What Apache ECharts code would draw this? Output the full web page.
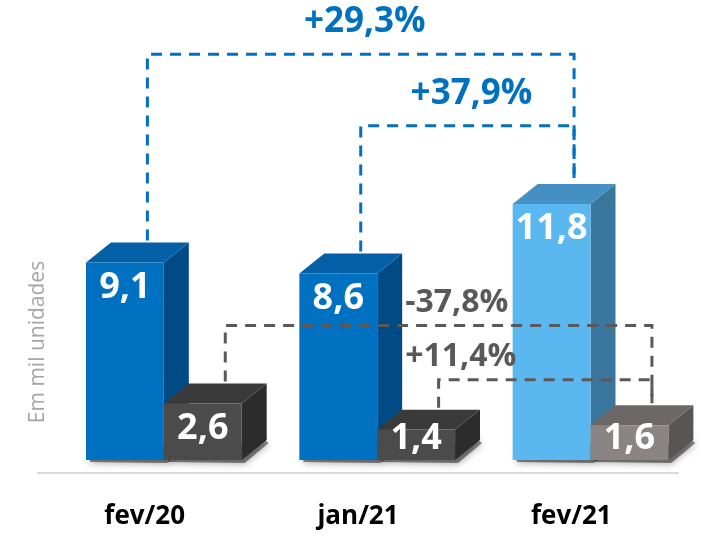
<!DOCTYPE html>
<html>
<head>
<meta charset="utf-8">
<script src="https://cdn.jsdelivr.net/npm/echarts@6/dist/echarts.min.js"></script>
<style>
	html, body { margin: 0; padding: 0; background: #fff; }
	#chart { width: 706px; height: 536px; }
</style>
</head>
<body>
<div id="chart"></div>
<script>
// data (em mil unidades)
const categories = ['fev/20', 'jan/21', 'fev/21']
const blueValues = [9.1, 8.6, 11.8]
const grayValues = [2.6, 1.4, 1.6]

// comparison brackets: from category, to category, bracket level (value units), text
const blueLinkFrom = [0, 1]
const blueLinkTo = [2, 2]
const blueLinkLevel = [18.7, 15.4]
const blueLinkText = ['+29,3%', '+37,9%']

const grayLinkFrom = [0, 1]
const grayLinkTo = [2, 2]
const grayLinkLevel = [6.2, 3.7]
const grayLinkText = ['-37,8%', '+11,4%']
const grayLinkLabelAt = [1, 1]

const FONT = '"Open Sans", sans-serif'

// geometry, as fractions of the category band
const BLUE_OFF = -0.275
const GRAY_OFF = 0.09
const BAR_W = 0.365
const DEPTH = 0.117

const darkBlue = { front: '#0070c0', top: '#0560a8', side: '#004b85' }
const lightBlue = { front: '#5bb7f0', top: '#4590c2', side: '#3a769e' }
const darkGray = { front: '#4b4b4b', top: '#3a3a3a', side: '#2c2c2c' }
const lightGray = { front: '#8a8484', top: '#6d6767', side: '#5a5555' }
const blueFaces = [darkBlue, darkBlue, lightBlue]
const grayFaces = [darkGray, darkGray, lightGray]

const fmt = v => v.toFixed(1).replace('.', ',')

function barRenderer(offset, faces) {
	return function (params, api) {
		const idx = api.value(0)
		const top = api.coord([idx, api.value(1)])
		const base = api.coord([idx, 0])
		const band = api.size([1, 0])[0]
		const x0 = top[0] + offset * band
		const w = BAR_W * band
		const dx = DEPTH * band
		const dy = dx * 0.8
		const c = faces[idx]
		const ty = top[1]
		const by = base[1]
		return {
			type: 'group',
			children: [
				{
					// soft shadow under the box
					type: 'polygon',
					shape: { points: [[x0 + 4, by - 3], [x0 + w + dx - 2, by - dy], [x0 + w + dx + 2, by - dy + 3], [x0 + w + 3, by + 3], [x0 + 4, by + 2]] },
					style: { fill: 'rgba(0,0,0,0.45)', shadowBlur: 7, shadowColor: 'rgba(0,0,0,0.7)', shadowOffsetY: 1 }
				},
				{
					type: 'polygon',
					shape: { points: [[x0 + w, ty], [x0 + w + dx, ty - dy], [x0 + w + dx, by - dy], [x0 + w, by]] },
					style: { fill: c.side }
				},
				{
					type: 'polygon',
					shape: { points: [[x0, ty], [x0 + dx, ty - dy], [x0 + w + dx, ty - dy], [x0 + w, ty]] },
					style: { fill: c.top }
				},
				{
					type: 'rect',
					shape: { x: x0, y: ty, width: w, height: by - ty },
					style: { fill: c.front }
				},
				{
					type: 'text',
					x: x0 + w / 2,
					y: Math.min(ty + 25, by - 21),
					style: {
						text: fmt(api.value(1)),
						fill: '#fff',
						font: 'bold 36px ' + FONT,
						align: 'center',
						verticalAlign: 'middle'
					}
				}
			]
		}
	}
}

function linkRenderer(barOffset, values, color, texts, labelAt) {
	return function (params, api) {
		const from = api.value(0)
		const to = api.value(1)
		const level = api.value(2)
		const i = params.dataIndex
		const band = api.size([1, 0])[0]
		const dx = DEPTH * band
		const shift = (barOffset + BAR_W / 2) * band + dx * 0.9
		const x1 = api.coord([from, 0])[0] + shift
		const x2 = api.coord([to, 0])[0] + shift
		const ly = api.coord([from, level])[1]
		const e1 = api.coord([from, values[from]])[1] - dx * 0.8 - 2
		const e2 = api.coord([to, values[to]])[1] - dx * 0.8 - 2
		let label
		if (labelAt) {
			const lx = api.coord([labelAt[i], 0])[0] + (BLUE_OFF + BAR_W + DEPTH) * band + 3
			label = { type: 'text', x: lx, y: ly - 23, style: { text: texts[i], fill: color, font: 'bold 32px ' + FONT, align: 'left', verticalAlign: 'middle' } }
		} else {
			label = { type: 'text', x: (x1 + x2) / 2 + 4, y: ly - 32, style: { text: texts[i], fill: color, font: 'bold 35px ' + FONT, align: 'center', verticalAlign: 'middle' } }
		}
		return {
			type: 'group',
			children: [
				{
					type: 'polyline',
					shape: { points: [[x1, e1], [x1, ly], [x2, ly], [x2, e2]] },
					style: { stroke: color, lineWidth: 3, lineDash: [11, 8], fill: null }
				},
				label
			]
		}
	}
}

const chart = echarts.init(document.getElementById('chart'))

const option = {
	animation: false,
	grid: { left: 38, right: 28, top: 26, bottom: 76 },
	xAxis: {
		type: 'category',
		data: categories,
		offset: 13,
		axisTick: { show: false },
		axisLine: { onZero: false, lineStyle: { color: '#d9d9d9', width: 2 } },
		axisLabel: { fontSize: 26, fontWeight: 'bold', color: '#000', margin: 31, fontFamily: FONT }
	},
	yAxis: { type: 'value', min: 0, max: 20, show: false },
	graphic: [{
		type: 'text',
		x: 38,
		y: 342,
		rotation: Math.PI / 2,
		style: { text: 'Em mil unidades', fill: '#a6a6a6', font: '21px ' + FONT, align: 'center', verticalAlign: 'middle' }
	}],
	series: [
		{
			type: 'custom',
			clip: false,
			renderItem: barRenderer(BLUE_OFF, blueFaces),
			data: blueValues.map((v, i) => [i, v])
		},
		{
			type: 'custom',
			clip: false,
			renderItem: barRenderer(GRAY_OFF, grayFaces),
			data: grayValues.map((v, i) => [i, v])
		},
		{
			type: 'custom',
			clip: false,
			renderItem: linkRenderer(BLUE_OFF, blueValues, '#0070c0', blueLinkText),
			data: blueLinkFrom.map((f, i) => [f, blueLinkTo[i], blueLinkLevel[i]])
		},
		{
			type: 'custom',
			clip: false,
			renderItem: linkRenderer(GRAY_OFF, grayValues, '#595959', grayLinkText, grayLinkLabelAt),
			data: grayLinkFrom.map((f, i) => [f, grayLinkTo[i], grayLinkLevel[i]])
		}
	]
}

chart.setOption(option)
</script>
</body>
</html>
